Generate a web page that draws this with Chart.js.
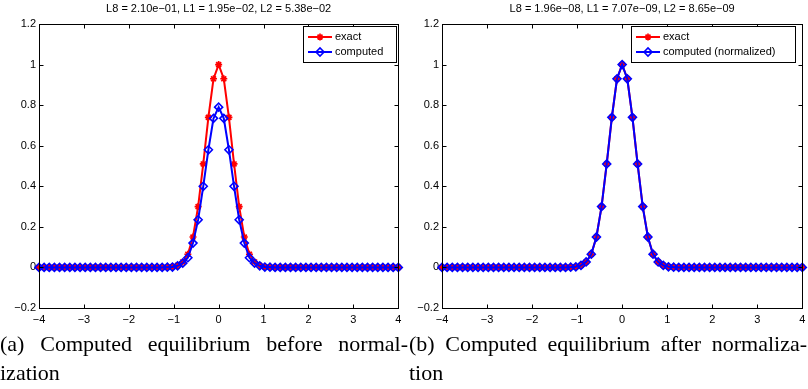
<!DOCTYPE html>
<html>
<head>
<meta charset="utf-8">
<script src="https://cdn.jsdelivr.net/npm/chart.js@4.4.1/dist/chart.umd.min.js"></script>
<style>
    body { margin: 0; background: #fff; width: 808px; height: 389px; overflow: hidden; position: relative; }
    canvas { position: absolute; top: 0; display: block; }
    .caption { position: absolute; top: 329px; font-family: "Liberation Serif", "Times New Roman", serif; font-size: 22px; line-height: 29px; color: #000; }
    .caption .l1 { text-align: justify; text-align-last: justify; }
</style>
</head>
<body>
<canvas id="chartA" width="404" height="330" style="left:0px"></canvas>
<canvas id="chartB" width="404" height="330" style="left:404px"></canvas>
<div class="caption" style="left:0px; width:408px;">
    <div class="l1">(a) Computed equilibrium before normal-</div>
    <div>ization</div>
</div>
<div class="caption" style="left:409px; width:398px;">
    <div class="l1">(b) Computed equilibrium after normaliza-</div>
    <div>tion</div>
</div>
<script>
// === data ===
const xVals = [
    -4, -3.8857, -3.7714, -3.6571, -3.5429, -3.4286, -3.3143, -3.2, -3.0857, -2.9714,
    -2.8571, -2.7429, -2.6286, -2.5143, -2.4, -2.2857, -2.1714, -2.0571, -1.9429, -1.8286,
    -1.7143, -1.6, -1.4857, -1.3714, -1.2571, -1.1429, -1.0286, -0.9143, -0.8, -0.6857,
    -0.5714, -0.4571, -0.3429, -0.2286, -0.1143, 0,
    0.1143, 0.2286, 0.3429, 0.4571, 0.5714, 0.6857, 0.8, 0.9143, 1.0286, 1.1429,
    1.2571, 1.3714, 1.4857, 1.6, 1.7143, 1.8286, 1.9429, 2.0571, 2.1714, 2.2857,
    2.4, 2.5143, 2.6286, 2.7429, 2.8571, 2.9714, 3.0857, 3.2, 3.3143, 3.4286,
    3.5429, 3.6571, 3.7714, 3.8857, 4
];

// exact solution (same in both panels)
const exactVals = [
    0, 0, 0, 0, 0, 0, 0, 0, 0, 0,
    0, 0, 0, 0, 0, 0, 0, 0, 0, 0,
    0, 0, 0, 0, 0,
    0.001, 0.003, 0.01, 0.027, 0.065, 0.15, 0.30, 0.51, 0.74, 0.93,
    1,
    0.93, 0.74, 0.51, 0.30, 0.15, 0.065, 0.027, 0.01, 0.003, 0.001,
    0, 0, 0, 0, 0, 0, 0, 0, 0, 0,
    0, 0, 0, 0, 0, 0, 0, 0, 0, 0,
    0, 0, 0, 0, 0
];

// computed before normalization
const computedVals = [
    0, 0, 0, 0, 0, 0, 0, 0, 0, 0,
    0, 0, 0, 0, 0, 0, 0, 0, 0, 0,
    0, 0, 0, 0, 0,
    0.001, 0.002, 0.008, 0.021, 0.048, 0.12, 0.235, 0.40, 0.58, 0.735,
    0.79,
    0.735, 0.58, 0.40, 0.235, 0.12, 0.048, 0.021, 0.008, 0.002, 0.001,
    0, 0, 0, 0, 0, 0, 0, 0, 0, 0,
    0, 0, 0, 0, 0, 0, 0, 0, 0, 0,
    0, 0, 0, 0, 0
];

// computed after normalization
const normalizedVals = [
    0, 0, 0, 0, 0, 0, 0, 0, 0, 0,
    0, 0, 0, 0, 0, 0, 0, 0, 0, 0,
    0, 0, 0, 0, 0,
    0.001, 0.003, 0.01, 0.027, 0.065, 0.15, 0.30, 0.51, 0.74, 0.93,
    1,
    0.93, 0.74, 0.51, 0.30, 0.15, 0.065, 0.027, 0.01, 0.003, 0.001,
    0, 0, 0, 0, 0, 0, 0, 0, 0, 0,
    0, 0, 0, 0, 0, 0, 0, 0, 0, 0,
    0, 0, 0, 0, 0
];

const xTicks = [-4, -3, -2, -1, 0, 1, 2, 3, 4];
const titleA = "L8 = 2.10e\u221201, L1 = 1.95e\u221202, L2 = 5.38e\u221202";
const titleB = "L8 = 1.96e\u221208, L1 = 7.07e\u221209, L2 = 8.65e\u221209";

// === styles ===
const RED = "#ff0000";
const BLUE = "#0000ff";
const FONT = "Liberation Sans, Arial, Helvetica, sans-serif";

function toPoints(xs, ys) {
    return xs.map((x, i) => ({ x: x, y: ys[i] }));
}

function fmtTick(v) {
    const s = String(Math.round(v * 10) / 10);
    return s.replace("-", "\u2212");
}

// === plugins ===
const frame = {
    id: "frame",
    afterDatasetsDraw(chart) {
        const { ctx, chartArea: a, scales } = chart;
        const L = Math.round(a.left) + 0.5, R = Math.round(a.right) + 0.5;
        const T = Math.round(a.top) + 0.5, B = Math.round(a.bottom) + 0.5;
        ctx.save();
        ctx.strokeStyle = "#000";
        ctx.lineWidth = 1;
        ctx.strokeRect(L, T, R - L, B - T);
        ctx.beginPath();
        scales.x.ticks.forEach(t => {
            const px = Math.round(scales.x.getPixelForValue(t.value)) + 0.5;
            ctx.moveTo(px, B); ctx.lineTo(px, B - 4);
            ctx.moveTo(px, T); ctx.lineTo(px, T + 4);
        });
        scales.y.ticks.forEach(t => {
            const py = Math.round(scales.y.getPixelForValue(t.value)) + 0.5;
            ctx.moveTo(L, py); ctx.lineTo(L + 4, py);
            ctx.moveTo(R, py); ctx.lineTo(R - 4, py);
        });
        ctx.stroke();
        ctx.restore();
    }
};

const topTitle = {
    id: "topTitle",
    afterDraw(chart, args, opts) {
        const { ctx, chartArea: a } = chart;
        ctx.save();
        ctx.fillStyle = "#000";
        ctx.font = "11px " + FONT;
        ctx.textAlign = "center";
        ctx.textBaseline = "middle";
        ctx.fillText(opts.text, (a.left + a.right) / 2, 9);
        ctx.restore();
    }
};

const legendBox = {
    id: "legendBox",
    afterDraw(chart, args, opts) {
        const { ctx, chartArea: a } = chart;
        const w = opts.width, h = 36;
        const x0 = Math.round(a.right - opts.offset - w), y0 = Math.round(a.top) + 2;
        ctx.save();
        ctx.fillStyle = "#fff";
        ctx.fillRect(x0, y0, w, h);
        ctx.strokeStyle = "#000";
        ctx.lineWidth = 1;
        ctx.strokeRect(x0 + 0.5, y0 + 0.5, w, h);
        // draw entries in the order of the datasets
        chart.data.datasets.forEach((ds, i) => {
            const y = y0 + 11 + i * 15;
            ctx.strokeStyle = ds.borderColor;
            ctx.lineWidth = ds.borderWidth;
            ctx.beginPath();
            ctx.moveTo(x0 + 5, y);
            ctx.lineTo(x0 + 29, y);
            ctx.stroke();
            ctx.lineWidth = ds.pointBorderWidth;
            ctx.fillStyle = ds.pointBackgroundColor;
            Chart.helpers.drawPoint(ctx, {
                pointStyle: ds.pointStyle,
                radius: ds.pointRadius,
                borderWidth: ds.pointBorderWidth,
                rotation: 0,
            }, x0 + 17, y);
            ctx.fillStyle = "#000";
            ctx.font = "11px " + FONT;
            ctx.textAlign = "left";
            ctx.textBaseline = "middle";
            ctx.fillText(ds.label, x0 + 32, y);
        });
        ctx.restore();
    }
};

// === chart builder ===
function makeChart(canvasId, cfg) {
    const ctx = document.getElementById(canvasId).getContext("2d");
    return new Chart(ctx, {
        type: "scatter",
        data: {
            datasets: [
                {
                    label: "exact",
                    data: toPoints(xVals, cfg.exact),
                    showLine: true,
                    borderColor: RED,
                    backgroundColor: RED,
                    borderWidth: 2,
                    pointStyle: "star",
                    pointRadius: 3.5,
                    pointBorderWidth: 1.7,
                    pointBorderColor: RED,
                    pointBackgroundColor: RED,
                    clip: false,
                    order: 2,
                },
                {
                    label: cfg.label,
                    data: toPoints(xVals, cfg.computed),
                    showLine: true,
                    borderColor: BLUE,
                    backgroundColor: BLUE,
                    borderWidth: 2,
                    pointStyle: "rectRot",
                    pointRadius: 4,
                    pointBorderWidth: 1.6,
                    pointBorderColor: BLUE,
                    pointBackgroundColor: "rgba(0,0,0,0)",
                    clip: false,
                    order: 1,
                }
            ]
        },
        options: {
            responsive: false,
            animation: false,
            devicePixelRatio: 1,
            events: [],
            layout: { padding: { top: 24, right: cfg.padRight, left: 0, bottom: 0 } },
            plugins: {
                legend: { display: false },
                tooltip: { enabled: false },
                title: { display: false },
                topTitle: { text: cfg.title },
                legendBox: { width: cfg.legendWidth, offset: cfg.legendOffset },
            },
            scales: {
                x: {
                    type: "linear",
                    min: -4,
                    max: 4,
                    afterBuildTicks: s => { s.ticks = xTicks.map(v => ({ value: v })); },
                    afterFit: s => { s.height = 22; s.paddingLeft = 0; s.paddingRight = 0; },
                    ticks: {
                        autoSkip: false,
                        maxRotation: 0,
                        padding: 5,
                        color: "#000",
                        font: { family: FONT, size: 11 },
                        callback: v => fmtTick(v),
                    },
                    grid: { display: false, drawTicks: false },
                    border: { display: false },
                },
                y: {
                    min: -0.2,
                    max: 1.2,
                    afterFit: s => { s.width = cfg.yWidth; s.paddingTop = 0; s.paddingBottom = 0; },
                    ticks: {
                        stepSize: 0.2,
                        padding: 3,
                        color: "#000",
                        font: { family: FONT, size: 11 },
                        callback: v => fmtTick(v),
                    },
                    grid: { display: false, drawTicks: false },
                    border: { display: false },
                }
            }
        },
        plugins: [frame, topTitle, legendBox]
    });
}

// === init ===
makeChart("chartA", {
    exact: exactVals,
    computed: computedVals,
    label: "computed",
    title: titleA,
    padRight: 5,
    yWidth: 39,
    legendWidth: 93,
    legendOffset: 2,
});

makeChart("chartB", {
    exact: exactVals,
    computed: normalizedVals,
    label: "computed (normalized)",
    title: titleB,
    padRight: 4,
    yWidth: 38,
    legendWidth: 164,
    legendOffset: 7,
});
</script>
</body>
</html>
